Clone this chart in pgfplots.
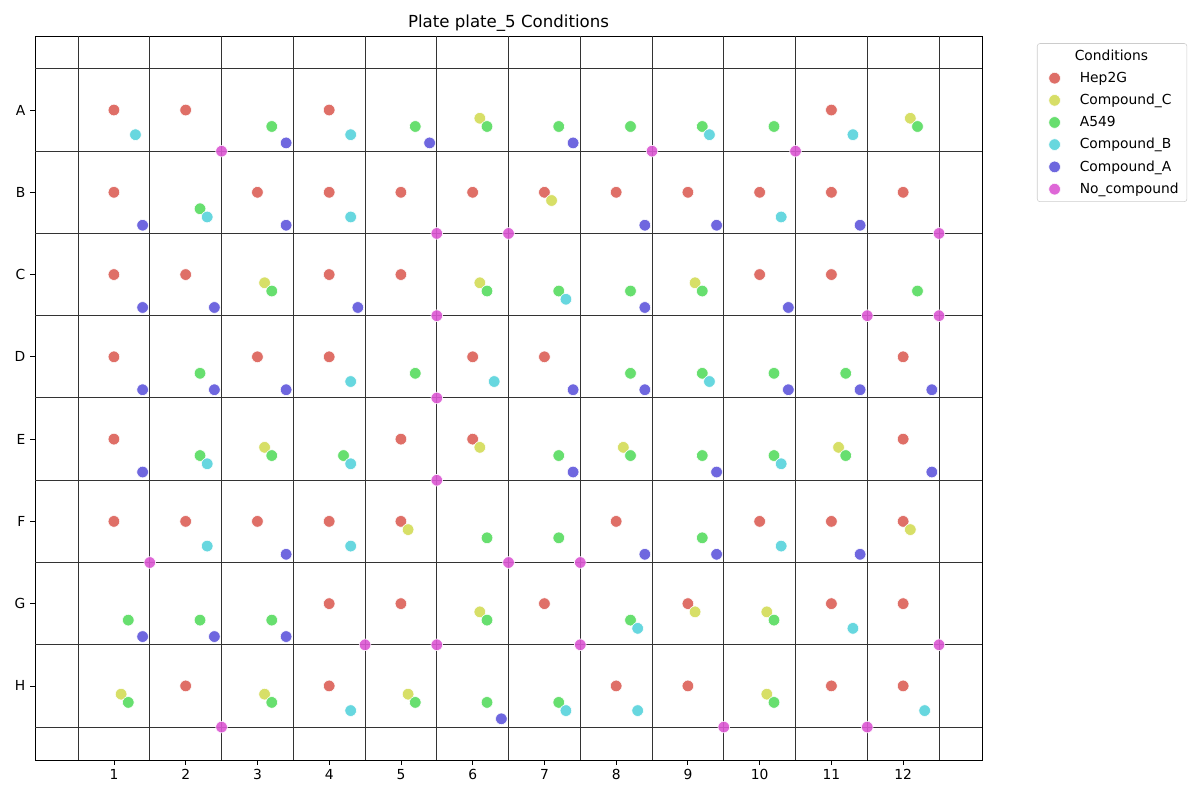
\documentclass[border=0pt]{standalone}
\usepackage{fontspec}
\setmainfont{DejaVu Sans}
\usepackage{pgfplots}
\pgfplotsset{compat=1.18}

\definecolor{hep}{HTML}{DB5F57}
\definecolor{cpdc}{HTML}{D3DB57}
\definecolor{asf}{HTML}{57DB5F}
\definecolor{cpdb}{HTML}{57D3DB}
\definecolor{cpda}{HTML}{5F57DB}
\definecolor{nocpd}{HTML}{DB57D3}

\pgfplotsset{
  dot/.style={only marks, mark=*, mark size=4.2pt,
    mark options={draw=white, line width=0.4pt, fill=#1, fill opacity=0.9}},
}

\begin{document}
\begin{tikzpicture}
\begin{axis}[
    scale only axis,
    width=684.4pt, height=523.2pt,
    xmin=-0.1, xmax=13.1,
    ymin=-0.9, ymax=7.9,
    y dir=reverse,
    xtick={1,...,12},
    ytick={0,...,7},
    yticklabels={A,B,C,D,E,F,G,H},
    tick pos=left,
    tick align=outside,
    major tick length=3.5pt,
    tick style={black, line width=0.6pt},
    axis line style={black, line width=0.6pt},
    ticklabel style={font=\fontsize{10}{12}\selectfont},
    /pgf/number format/assume math mode=true,
    extra x ticks={0.5,1.5,...,12.5},
    extra x tick labels={},
    extra y ticks={-0.5,0.5,...,7.5},
    extra y tick labels={},
    extra tick style={grid=major, major tick length=0pt},
    major grid style={black!80, line width=0.7pt},
    title={Plate plate\_5 Conditions},
    title style={font=\fontsize{12}{14}\selectfont, yshift=-6.5pt},
    legend cell align=left,
    legend style={at={(rel axis cs:1.058,0.99)}, anchor=north west,
      draw=black!20, rounded corners=2pt, fill=white,
      font=\fontsize{10}{12}\selectfont, row sep=3pt, column sep=12pt,
      inner xsep=4pt, inner ysep=2.5pt},
]
\addlegendimage{empty legend}
\addlegendentry{\hspace{-3.6pt}Conditions}

% Hep2G (offset 0)
\addplot[dot=hep] coordinates {
(1,0) (2,0) (4,0) (11,0)
(1,1) (3,1) (4,1) (5,1) (6,1) (7,1) (8,1) (9,1) (10,1) (11,1) (12,1)
(1,2) (2,2) (4,2) (5,2) (10,2) (11,2)
(1,3) (3,3) (4,3) (6,3) (7,3) (12,3)
(1,4) (5,4) (6,4) (12,4)
(1,5) (2,5) (3,5) (4,5) (5,5) (8,5) (10,5) (11,5) (12,5)
(4,6) (5,6) (7,6) (9,6) (11,6) (12,6)
(2,7) (4,7) (8,7) (9,7) (11,7) (12,7)
};
\addlegendentry{Hep2G}

% Compound_C (offset 0.1)
\addplot[dot=cpdc] coordinates {
(6.1,0.1) (12.1,0.1)
(7.1,1.1)
(3.1,2.1) (6.1,2.1) (9.1,2.1)
(3.1,4.1) (6.1,4.1) (8.1,4.1) (11.1,4.1)
(5.1,5.1) (12.1,5.1)
(6.1,6.1) (9.1,6.1) (10.1,6.1)
(1.1,7.1) (3.1,7.1) (5.1,7.1) (10.1,7.1)
};
\addlegendentry{Compound\_C}

% A549 (offset 0.2)
\addplot[dot=asf] coordinates {
(3.2,0.2) (5.2,0.2) (6.2,0.2) (7.2,0.2) (8.2,0.2) (9.2,0.2) (10.2,0.2) (12.2,0.2)
(2.2,1.2)
(3.2,2.2) (6.2,2.2) (7.2,2.2) (8.2,2.2) (9.2,2.2) (12.2,2.2)
(2.2,3.2) (5.2,3.2) (8.2,3.2) (9.2,3.2) (10.2,3.2) (11.2,3.2)
(2.2,4.2) (3.2,4.2) (4.2,4.2) (7.2,4.2) (8.2,4.2) (9.2,4.2) (10.2,4.2) (11.2,4.2)
(6.2,5.2) (7.2,5.2) (9.2,5.2)
(1.2,6.2) (2.2,6.2) (3.2,6.2) (6.2,6.2) (8.2,6.2) (10.2,6.2)
(1.2,7.2) (3.2,7.2) (5.2,7.2) (6.2,7.2) (7.2,7.2) (10.2,7.2)
};
\addlegendentry{A549}

% Compound_B (offset 0.3)
\addplot[dot=cpdb] coordinates {
(1.3,0.3) (4.3,0.3) (9.3,0.3) (11.3,0.3)
(2.3,1.3) (4.3,1.3) (10.3,1.3)
(7.3,2.3)
(4.3,3.3) (6.3,3.3) (9.3,3.3)
(2.3,4.3) (4.3,4.3) (10.3,4.3)
(2.3,5.3) (4.3,5.3) (10.3,5.3)
(8.3,6.3) (11.3,6.3)
(4.3,7.3) (7.3,7.3) (8.3,7.3) (12.3,7.3)
};
\addlegendentry{Compound\_B}

% Compound_A (offset 0.4)
\addplot[dot=cpda] coordinates {
(3.4,0.4) (5.4,0.4) (7.4,0.4)
(1.4,1.4) (3.4,1.4) (8.4,1.4) (9.4,1.4) (11.4,1.4)
(1.4,2.4) (2.4,2.4) (4.4,2.4) (8.4,2.4) (10.4,2.4)
(1.4,3.4) (2.4,3.4) (3.4,3.4) (7.4,3.4) (8.4,3.4) (10.4,3.4) (11.4,3.4) (12.4,3.4)
(1.4,4.4) (7.4,4.4) (9.4,4.4) (12.4,4.4)
(3.4,5.4) (8.4,5.4) (9.4,5.4) (11.4,5.4)
(1.4,6.4) (2.4,6.4) (3.4,6.4)
(6.4,7.4)
};
\addlegendentry{Compound\_A}

% No_compound (offset 0.5)
\addplot[dot=nocpd] coordinates {
(2.5,0.5) (8.5,0.5) (10.5,0.5)
(5.5,1.5) (6.5,1.5) (12.5,1.5)
(5.5,2.5) (11.5,2.5) (12.5,2.5)
(5.5,3.5)
(5.5,4.5)
(1.5,5.5) (6.5,5.5) (7.5,5.5)
(4.5,6.5) (5.5,6.5) (7.5,6.5) (12.5,6.5)
(2.5,7.5) (9.5,7.5) (11.5,7.5)
};
\addlegendentry{No\_compound}
\end{axis}
\path ([xshift=-25.3pt,yshift=-28.9pt]current axis.south west)
  rectangle ([xshift=157.5pt,yshift=26pt]current axis.north east);
\end{tikzpicture}
\end{document}
